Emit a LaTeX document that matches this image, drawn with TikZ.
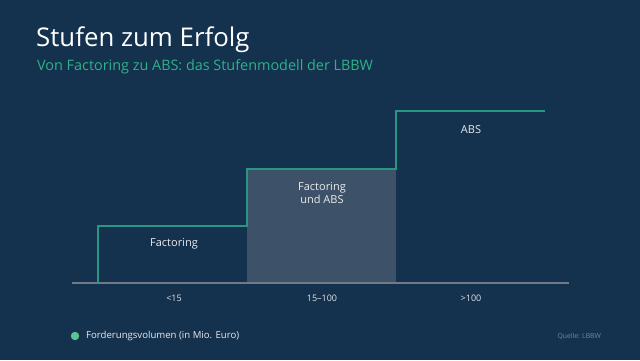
\documentclass[tikz,border=0pt]{standalone}
\usepackage{fontspec}
\setmainfont{Open Sans}
\definecolor{bgblue}{RGB}{20,49,78}
\definecolor{stepteal}{RGB}{40,150,128}
\definecolor{subgreen}{RGB}{46,178,136}
\definecolor{dotgreen}{RGB}{92,196,148}
\definecolor{midfill}{RGB}{61,82,104}
\definecolor{axisgray}{RGB}{112,122,136}
\definecolor{srcgray}{RGB}{120,136,152}
\tikzset{
  steplabel/.style={text=white!92!black, font=\fontsize{11}{13}\selectfont, align=center},
  ticklabel/.style={text=white!90!black, font=\fontsize{9}{10}\selectfont},
}
\begin{document}
\begin{tikzpicture}[x=1pt,y=-1pt]
			\fill[bgblue] (0,0) rectangle (640,360);
			\useasboundingbox (0,0) rectangle (640,360);
			\node (title) [right, inner sep=0, text=white, font=\fontsize{25.8}{30}\selectfont] at (36,40) {Stufen zum Erfolg};
			\node (subtitle) [right, inner sep=0, text=subgreen, font=\fontsize{14.4}{17}\selectfont] at (37,67) {Von Factoring zu ABS: das Stufenmodell der LBBW};
			% steps
			\coordinate (s0) at (98,283);
			\coordinate (s1) at (98,226);
			\coordinate (s2) at (247,226);
			\coordinate (s3) at (247,169);
			\coordinate (s4) at (396,169);
			\coordinate (s5) at (396,111);
			\coordinate (s6) at (545,111);
			\fill[midfill] (s3) rectangle (396,283);
			\draw[axisgray, line width=1.5pt] (72,283) -- (569,283);
			\draw[stepteal, line width=1.4pt] (s0) -- (s1) -- (s2) -- (s3) -- (s4) -- (s5) -- (s6);
			\node (factoring) [steplabel] at (174,244) {Factoring};
			\node (both) [steplabel] at (322,193) {Factoring\\und ABS};
			\node (abs) [steplabel] at (471,130) {ABS};
			\node (t1) [ticklabel] at (174,298) {<15};
			\node (t2) [ticklabel] at (322,298) {15–100};
			\node (t3) [ticklabel] at (471,298) {>100};
			% legend
			\fill[dotgreen] (75,336) circle [radius=4.2] node (dot) {};
			\node (legend) [right, inner sep=0, text=white!92!black, font=\fontsize{9.6}{11}\selectfont] at (86,336) {Forderungsvolumen (in Mio. Euro)};
			\node (source) [left, inner sep=0, text=srcgray, font=\fontsize{6.8}{8}\selectfont] at (601,336) {Quelle: LBBW};
		\end{tikzpicture}
\end{document}
